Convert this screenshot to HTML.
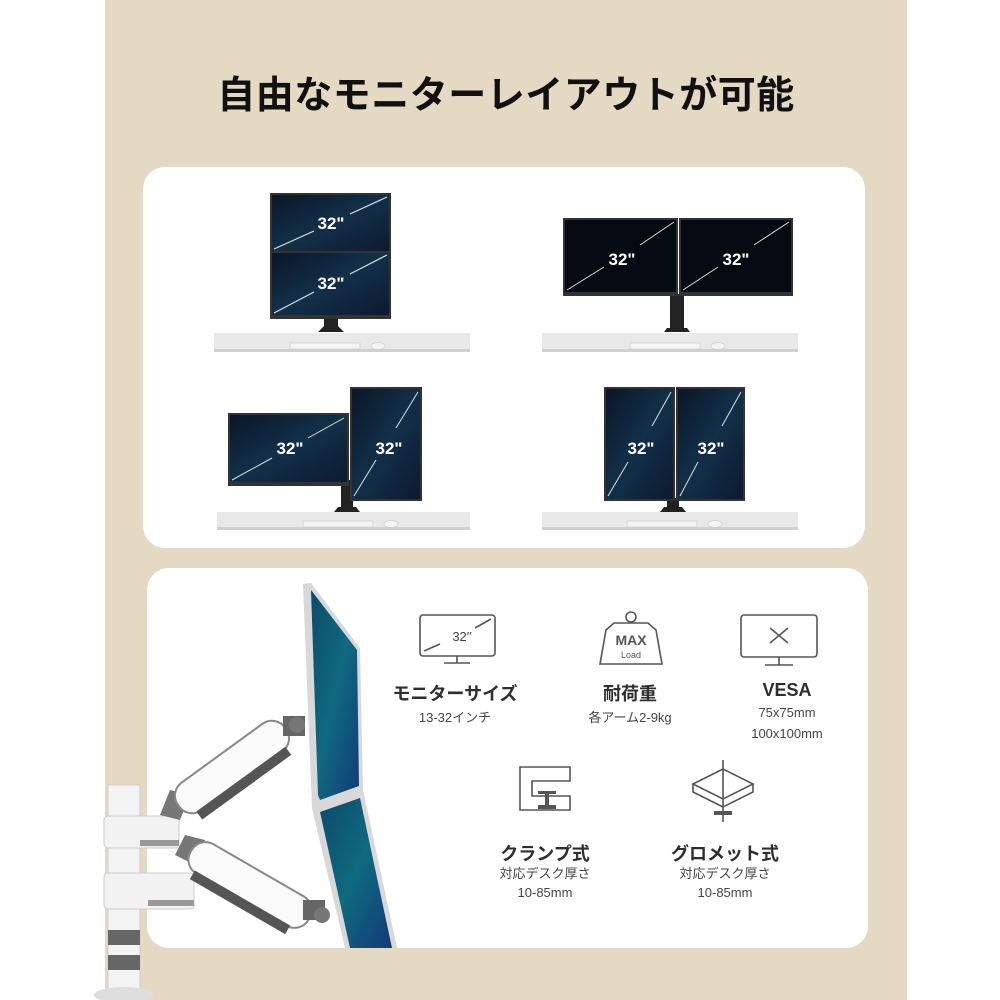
<!DOCTYPE html>
<html><head><meta charset="utf-8">
<style>
html,body{margin:0;padding:0;background:#fff}
#w{position:relative;width:1000px;height:1000px;overflow:hidden;background:#fff;font-family:"Liberation Sans","Noto Sans CJK JP",sans-serif}
.bg{position:absolute;left:105px;top:0;width:802px;height:1000px;background:#e4d9c3}
.card{position:absolute;background:#fff;border-radius:22px}
.t{position:absolute;text-align:center;color:#3a3a3a;white-space:nowrap}
.h{font-weight:bold;font-size:18px;color:#2e2e2e}
.s{font-size:13px;color:#444}
</style></head><body><div id="w">
<div class="bg"></div>
<div class="t" style="left:105px;width:802px;top:64px;font-size:38px;font-weight:bold;color:#111;letter-spacing:0.5px">自由なモニターレイアウトが可能</div>
<div class="card" style="left:143px;top:167px;width:722px;height:381px"></div>
<div class="card" style="left:147px;top:568px;width:721px;height:380px"></div>
<svg width="1000" height="1000" style="position:absolute;left:0;top:0">
<defs>
<linearGradient id="sc" x1="0" y1="0" x2="1" y2="1">
<stop offset="0" stop-color="#0b1628"/><stop offset="0.5" stop-color="#123048"/><stop offset="1" stop-color="#0c1a30"/></linearGradient>
<linearGradient id="bl" x1="0" y1="0" x2="1" y2="1">
<stop offset="0" stop-color="#0d4a6a"/><stop offset="0.5" stop-color="#0f6a80"/><stop offset="1" stop-color="#123a78"/></linearGradient>
<g id="kb"><rect x="0" y="0" width="70" height="6" fill="#f4f4f4" stroke="#ccc" stroke-width="0.7"/><ellipse cx="88" cy="3" rx="7" ry="3.5" fill="#f4f4f4" stroke="#ccc" stroke-width="0.7"/></g>
</defs>
<g font-family="Liberation Sans,sans-serif" font-weight="bold" font-size="17" fill="#fff" text-anchor="middle">
<rect x="214" y="333" width="256" height="19" fill="#e8e8e8"/><rect x="214" y="349" width="256" height="3" fill="#d0d0d0"/>
<use href="#kb" x="290" y="343"/>
<path d="M324 316h14v10l6 6h-26l6-6z" fill="#222"/>
<rect x="270" y="193" width="121" height="126" fill="#333"/>
<rect x="272" y="195" width="117" height="56" fill="url(#sc)"/>
<rect x="272" y="253" width="117" height="62" fill="url(#sc)"/>
<line x1="274" y1="249" x2="314" y2="231" stroke="#ddd" stroke-width="1.2"/><line x1="350" y1="214" x2="387" y2="197" stroke="#ddd" stroke-width="1.2"/>
<line x1="274" y1="313" x2="314" y2="292" stroke="#ddd" stroke-width="1.2"/><line x1="350" y1="274" x2="387" y2="255" stroke="#ddd" stroke-width="1.2"/>
<text x="331" y="229">32"</text>
<text x="331" y="289">32"</text>
<rect x="542" y="333" width="256" height="19" fill="#e8e8e8"/><rect x="542" y="349" width="256" height="3" fill="#d0d0d0"/>
<use href="#kb" x="630" y="343"/>
<rect x="670" y="294" width="14" height="38" fill="#222"/><path d="M664 332h26l-3-4h-20z" fill="#222"/>
<rect x="563" y="218" width="115" height="78" fill="#333"/><rect x="679" y="218" width="114" height="78" fill="#333"/>
<rect x="565" y="220" width="111" height="72" fill="#050a12"/><rect x="681" y="220" width="110" height="72" fill="#050a12"/>
<line x1="567" y1="290" x2="604" y2="267" stroke="#ddd"/><line x1="640" y1="245" x2="674" y2="222" stroke="#ddd"/>
<line x1="683" y1="290" x2="718" y2="267" stroke="#ddd"/><line x1="754" y1="245" x2="789" y2="222" stroke="#ddd"/>
<text x="622" y="265">32"</text>
<text x="736" y="265">32"</text>
<rect x="217" y="512" width="253" height="18" fill="#e8e8e8"/><rect x="217" y="527" width="253" height="3" fill="#d0d0d0"/>
<use href="#kb" x="303" y="521"/>
<rect x="341" y="480" width="12" height="30" fill="#222"/><path d="M334 512h26l-4-5h-18z" fill="#222"/>
<rect x="228" y="413" width="121" height="73" fill="#333"/><rect x="230" y="415" width="117" height="67" fill="url(#sc)"/>
<line x1="232" y1="480" x2="272" y2="458" stroke="#ddd"/><line x1="308" y1="438" x2="344" y2="418" stroke="#ddd"/>
<text x="290" y="454">32"</text>
<rect x="350" y="387" width="72" height="114" fill="#333"/><rect x="352" y="389" width="68" height="110" fill="url(#sc)"/>
<line x1="354" y1="496" x2="376" y2="460" stroke="#ddd"/><line x1="396" y1="428" x2="418" y2="392" stroke="#ddd"/>
<text x="389" y="454">32"</text>
<rect x="542" y="512" width="256" height="18" fill="#e8e8e8"/><rect x="542" y="527" width="256" height="3" fill="#d0d0d0"/>
<use href="#kb" x="627" y="521"/>
<rect x="667" y="498" width="12" height="12" fill="#222"/><path d="M660 512h26l-4-5h-18z" fill="#222"/>
<rect x="604" y="387" width="71" height="114" fill="#333"/><rect x="676" y="387" width="69" height="114" fill="#333"/>
<rect x="606" y="389" width="67" height="110" fill="url(#sc)"/><rect x="678" y="389" width="65" height="110" fill="url(#sc)"/>
<line x1="608" y1="496" x2="628" y2="462" stroke="#ddd"/><line x1="652" y1="426" x2="671" y2="392" stroke="#ddd"/>
<line x1="680" y1="496" x2="698" y2="462" stroke="#ddd"/><line x1="722" y1="426" x2="741" y2="392" stroke="#ddd"/>
<text x="641" y="454">32"</text>
<text x="711" y="454">32"</text>
</g>
<rect x="108" y="785" width="32" height="215" fill="#f3f3f3" stroke="#ccc"/>
<rect x="108" y="930" width="32" height="15" fill="#666"/><rect x="108" y="955" width="32" height="15" fill="#666"/>
<ellipse cx="124" cy="995" rx="30" ry="8" fill="#ddd"/>
<rect x="104" y="816" width="75" height="32" rx="4" fill="#f2f2f2" stroke="#ccc"/>
<rect x="140" y="840" width="39" height="6" fill="#999"/>
<rect x="104" y="873" width="90" height="36" rx="4" fill="#f2f2f2" stroke="#ccc"/>
<rect x="148" y="900" width="46" height="6" fill="#999"/>
<path d="M160 815l10-25 20 5-10 25z" fill="#777"/>
<path d="M175 855l10-20 20 5-10 25z" fill="#777"/>
<g transform="translate(232,767) rotate(-36)"><rect x="-66" y="-17" width="132" height="34" rx="16" fill="#fafafa" stroke="#888" stroke-width="2"/><rect x="-55" y="15" width="110" height="10" fill="#555"/></g>
<g transform="translate(250,885) rotate(30)"><rect x="-68" y="-17" width="136" height="34" rx="16" fill="#fafafa" stroke="#888" stroke-width="2"/><rect x="-55" y="15" width="110" height="10" fill="#555"/></g>
<rect x="283" y="716" width="22" height="20" fill="#666"/><circle cx="297" cy="725" r="8" fill="#777"/>
<rect x="303" y="900" width="22" height="20" fill="#666"/><circle cx="322" cy="915" r="8" fill="#777"/>
<polygon points="303,584 311,583 360,648 363,790 320,808 312,808" fill="#d8d8d8"/>
<polygon points="311,590 357,650 359,786 320,800 318,795" fill="url(#bl)"/>
<polygon points="312,808 363,790 397,948 345,948" fill="#d8d8d8"/>
<polygon points="320,812 360,798 392,948 350,948" fill="url(#bl)"/>
<g fill="none" stroke="#555" stroke-width="1.6">
<rect x="420" y="615" width="75" height="41" rx="3"/><line x1="457" y1="656" x2="457" y2="663"/><line x1="444" y1="663" x2="470" y2="663"/>
<line x1="424" y1="651" x2="440" y2="644"/><line x1="475" y1="628" x2="491" y2="619"/>
<path d="M606 630l8-7h34l8 7 6 34h-62z"/><circle cx="631" cy="617" r="5"/>
<rect x="741" y="615" width="76" height="42" rx="3"/><line x1="779" y1="657" x2="779" y2="665"/><line x1="765" y1="665" x2="793" y2="665"/>
<line x1="770" y1="628" x2="788" y2="643"/><line x1="788" y1="628" x2="770" y2="643"/>
<path d="M520 767h50v14h-38v15h38v14h-50z"/>
<path d="M693 784l30-15 30 15-30 15z"/><path d="M693 784v8l30 15 30-15v-8"/><line x1="723" y1="760" x2="723" y2="822"/>
</g>
<g fill="#555"><rect x="538" y="791" width="18" height="3"/><rect x="545" y="793" width="4" height="14"/><rect x="538" y="805" width="18" height="4"/><rect x="714" y="811" width="18" height="4"/></g>
<text x="631" y="645" text-anchor="middle" font-family="Liberation Sans,sans-serif" font-weight="bold" font-size="14" fill="#555">MAX</text>
<text x="631" y="658" text-anchor="middle" font-family="Liberation Sans,sans-serif" font-size="9" fill="#555">Load</text>
<text x="462" y="641" text-anchor="middle" font-family="Liberation Sans,sans-serif" font-size="13" fill="#444">32′′</text>
</svg>
<div class="t h" style="left:375px;width:160px;top:680px">モニターサイズ</div>
<div class="t s" style="left:375px;width:160px;top:707px">13-32インチ</div>
<div class="t h" style="left:550px;width:160px;top:680px">耐荷重</div>
<div class="t s" style="left:550px;width:160px;top:707px">各アーム2-9kg</div>
<div class="t h" style="left:707px;width:160px;top:680px">VESA</div>
<div class="t s" style="left:707px;width:160px;top:705px">75x75mm</div>
<div class="t s" style="left:707px;width:160px;top:726px">100x100mm</div>
<div class="t h" style="left:465px;width:160px;top:840px">クランプ式</div>
<div class="t s" style="left:465px;width:160px;top:863px">対応デスク厚さ</div>
<div class="t s" style="left:465px;width:160px;top:885px">10-85mm</div>
<div class="t h" style="left:645px;width:160px;top:840px">グロメット式</div>
<div class="t s" style="left:645px;width:160px;top:863px">対応デスク厚さ</div>
<div class="t s" style="left:645px;width:160px;top:885px">10-85mm</div>
</div></body></html>
